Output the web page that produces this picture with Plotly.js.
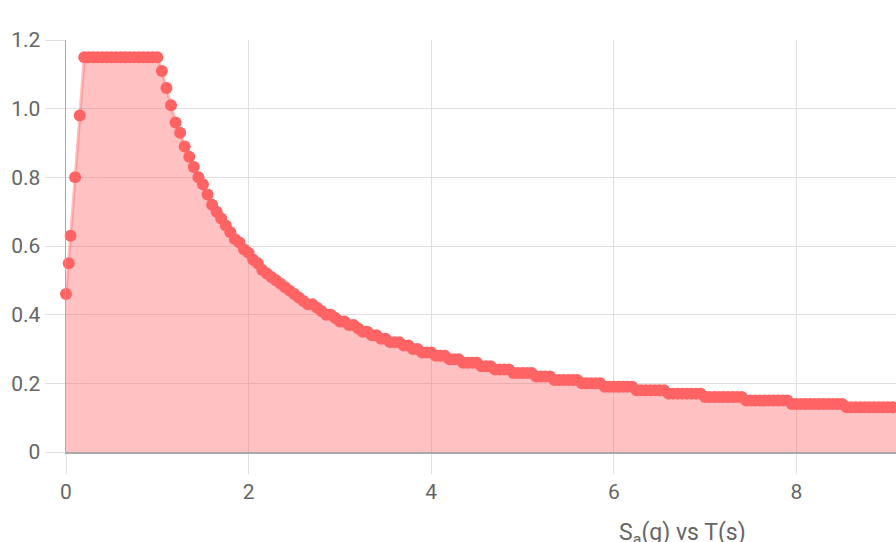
<!DOCTYPE html>
<html>
<head>
<meta charset="utf-8">
<script src="https://cdn.plot.ly/plotly-3.0.1.min.js"></script>
<style>html,body{margin:0;padding:0;background:#fff;}#chart{width:896px;height:542px;}</style>
</head>
<body>
<div id="chart"></div>
<script>
// Period T (s)
const periodT = [
  0, 0.03, 0.05, 0.1, 0.15, 0.2, 0.25, 0.3, 0.35, 0.4, 0.45, 0.5, 0.55, 0.6, 0.65, 0.7, 0.75, 0.8, 0.85, 0.9, 0.95, 1.0,
  1.05, 1.1, 1.15, 1.2, 1.25, 1.3, 1.35, 1.4, 1.45, 1.5, 1.55, 1.6, 1.65, 1.7, 1.75, 1.8, 1.85, 1.9, 1.95, 2.0,
  2.05, 2.1, 2.15, 2.2, 2.25, 2.3, 2.35, 2.4, 2.45, 2.5, 2.55, 2.6, 2.65, 2.7, 2.75, 2.8, 2.85, 2.9, 2.95, 3.0,
  3.05, 3.1, 3.15, 3.2, 3.25, 3.3, 3.35, 3.4, 3.45, 3.5, 3.55, 3.6, 3.65, 3.7, 3.75, 3.8, 3.85, 3.9, 3.95, 4.0,
  4.05, 4.1, 4.15, 4.2, 4.25, 4.3, 4.35, 4.4, 4.45, 4.5, 4.55, 4.6, 4.65, 4.7, 4.75, 4.8, 4.85, 4.9, 4.95, 5.0,
  5.05, 5.1, 5.15, 5.2, 5.25, 5.3, 5.35, 5.4, 5.45, 5.5, 5.55, 5.6, 5.65, 5.7, 5.75, 5.8, 5.85, 5.9, 5.95, 6.0,
  6.05, 6.1, 6.15, 6.2, 6.25, 6.3, 6.35, 6.4, 6.45, 6.5, 6.55, 6.6, 6.65, 6.7, 6.75, 6.8, 6.85, 6.9, 6.95, 7.0,
  7.05, 7.1, 7.15, 7.2, 7.25, 7.3, 7.35, 7.4, 7.45, 7.5, 7.55, 7.6, 7.65, 7.7, 7.75, 7.8, 7.85, 7.9, 7.95, 8.0,
  8.05, 8.1, 8.15, 8.2, 8.25, 8.3, 8.35, 8.4, 8.45, 8.5, 8.55, 8.6, 8.65, 8.7, 8.75, 8.8, 8.85, 8.9, 8.95, 9.0,
  9.05, 9.1, 9.15
];
// Spectral acceleration Sa (g)
const saValues = [
  0.46, 0.55, 0.63, 0.80, 0.98, 1.15, 1.15, 1.15, 1.15, 1.15, 1.15, 1.15, 1.15, 1.15, 1.15, 1.15, 1.15, 1.15, 1.15, 1.15, 1.15, 1.15,
  1.11, 1.06, 1.01, 0.96, 0.93, 0.89, 0.86, 0.83, 0.80, 0.78, 0.75, 0.72, 0.70, 0.68, 0.66, 0.64, 0.62, 0.61, 0.59, 0.58,
  0.56, 0.55, 0.53, 0.52, 0.51, 0.50, 0.49, 0.48, 0.47, 0.46, 0.45, 0.44, 0.43, 0.43, 0.42, 0.41, 0.40, 0.40, 0.39, 0.38,
  0.38, 0.37, 0.37, 0.36, 0.35, 0.35, 0.34, 0.34, 0.33, 0.33, 0.32, 0.32, 0.32, 0.31, 0.31, 0.30, 0.30, 0.29, 0.29, 0.29,
  0.28, 0.28, 0.28, 0.27, 0.27, 0.27, 0.26, 0.26, 0.26, 0.26, 0.25, 0.25, 0.25, 0.24, 0.24, 0.24, 0.24, 0.23, 0.23, 0.23,
  0.23, 0.23, 0.22, 0.22, 0.22, 0.22, 0.21, 0.21, 0.21, 0.21, 0.21, 0.21, 0.20, 0.20, 0.20, 0.20, 0.20, 0.19, 0.19, 0.19,
  0.19, 0.19, 0.19, 0.19, 0.18, 0.18, 0.18, 0.18, 0.18, 0.18, 0.18, 0.17, 0.17, 0.17, 0.17, 0.17, 0.17, 0.17, 0.17, 0.16,
  0.16, 0.16, 0.16, 0.16, 0.16, 0.16, 0.16, 0.16, 0.15, 0.15, 0.15, 0.15, 0.15, 0.15, 0.15, 0.15, 0.15, 0.15, 0.14, 0.14,
  0.14, 0.14, 0.14, 0.14, 0.14, 0.14, 0.14, 0.14, 0.14, 0.14, 0.13, 0.13, 0.13, 0.13, 0.13, 0.13, 0.13, 0.13, 0.13, 0.13,
  0.13, 0.13, 0.13
];
const xTickVals = [0, 2, 4, 6, 8];
const xTickText = ["0", "2", "4", "6", "8"];
const yTickVals = [0, 0.2, 0.4, 0.6, 0.8, 1.0, 1.2];
const yTickText = ["0", "0.2", "0.4", "0.6", "0.8", "1.0", "1.2"];
const chartTitle = "S<sub>a</sub>(g) vs T(s)";

const font = "Roboto, 'Liberation Sans', sans-serif";
const trace = {
  x: periodT,
  y: saValues,
  type: "scatter",
  mode: "lines+markers",
  fill: "tozeroy",
  fillcolor: "rgba(255,99,99,0.4)",
  line: {color: "rgba(255,99,99,0.4)", width: 3},
  marker: {color: "rgb(255,99,99)", size: 12},
  cliponaxis: false,
  hoverinfo: "x+y"
};
const axisCommon = {
  showgrid: true,
  gridcolor: "#e0e0e0",
  gridwidth: 1,
  zeroline: false,
  showline: true,
  linecolor: "#a8a8a8",
  linewidth: 1.5,
  ticks: "outside",
  ticklen: 20,
  tickwidth: 1,
  tickcolor: "#e0e0e0",
  tickfont: {family: font, size: 21, color: "#666"},
  tickmode: "array",
  fixedrange: true
};
const layout = {
  width: 896,
  height: 542,
  margin: {l: 66, r: 0, t: 40, b: 90},
  paper_bgcolor: "#fff",
  plot_bgcolor: "#fff",
  showlegend: false,
  xaxis: Object.assign({}, axisCommon, {range: [0, 9.09], tickvals: xTickVals, ticktext: xTickText}),
  yaxis: Object.assign({}, axisCommon, {range: [0, 1.2], tickvals: yTickVals, ticktext: yTickText}),
  annotations: [{
    text: chartTitle,
    xref: "paper", yref: "paper",
    x: 0.7428, y: -0.2,
    xanchor: "center", yanchor: "middle",
    showarrow: false,
    font: {family: font, size: 23, color: "#666"}
  }]
};
Plotly.newPlot("chart", [trace], layout, {displayModeBar: false, staticPlot: true});
</script>
</body>
</html>
